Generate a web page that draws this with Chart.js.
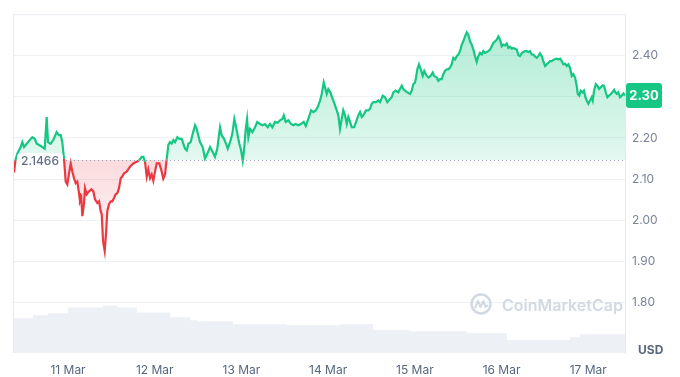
<!DOCTYPE html>
<html>
<head>
<meta charset="utf-8">
<script src="https://cdn.jsdelivr.net/npm/chart.js@4.4.1/dist/chart.umd.min.js"></script>
<style>
  html, body { margin: 0; padding: 0; background: #fff; }
  canvas { display: block; }
</style>
</head>
<body>
<canvas id="chart" width="680" height="377"></canvas>
<script>
// x values are days since 10 Mar 00:00
const dayTicks = [1, 2, 3, 4, 5, 6, 7];
const dayLabels = ['11 Mar', '12 Mar', '13 Mar', '14 Mar', '15 Mar', '16 Mar', '17 Mar'];
const priceTicks = [1.8, 1.9, 2.0, 2.1, 2.2, 2.3, 2.4];
const openPrice = 2.1466;

const times = [
  0.377,0.394,0.415,0.454,0.473,0.493,0.524,0.550,0.588,0.616,
  0.639,0.666,0.704,0.731,0.754,0.769,0.800,0.830,0.869,0.896,
  0.916,0.934,0.954,0.973,0.992,1.003,1.031,1.050,1.069,1.089,
  1.107,1.127,1.138,1.153,1.165,1.184,1.196,1.216,1.242,1.269,
  1.292,1.311,1.338,1.358,1.377,1.389,1.404,1.423,1.438,1.453,
  1.473,1.493,1.511,1.531,1.550,1.569,1.588,1.608,1.626,1.646,
  1.677,1.715,1.753,1.792,1.822,1.850,1.869,1.888,1.908,1.926,
  1.946,1.965,1.984,2.003,2.023,2.053,2.081,2.099,2.119,2.138,
  2.157,2.176,2.196,2.215,2.234,2.261,2.284,2.311,2.330,2.349,
  2.369,2.388,2.415,2.438,2.465,2.484,2.503,2.522,2.553,2.580,
  2.607,2.638,2.669,2.695,2.722,2.753,2.773,2.799,2.830,2.842,
  2.869,2.895,2.918,2.934,2.957,2.976,2.996,3.015,3.030,3.050,
  3.065,3.080,3.099,3.126,3.157,3.183,3.214,3.241,3.272,3.303,
  3.330,3.356,3.387,3.419,3.445,3.472,3.488,3.511,3.541,3.572,
  3.599,3.626,3.656,3.687,3.718,3.742,3.765,3.780,3.803,3.829,
  3.857,3.880,3.907,3.926,3.949,3.964,3.984,4.002,4.025,4.060,
  4.080,4.099,4.118,4.137,4.157,4.175,4.195,4.215,4.233,4.253,
  4.272,4.299,4.322,4.348,4.368,4.388,4.406,4.437,4.464,4.483,
  4.503,4.521,4.552,4.579,4.598,4.630,4.656,4.683,4.714,4.733,
  4.752,4.779,4.809,4.829,4.849,4.867,4.887,4.913,4.945,4.964,
  4.983,5.002,5.014,5.029,5.048,5.068,5.091,5.109,5.137,5.160,
  5.183,5.207,5.221,5.253,5.271,5.291,5.310,5.329,5.348,5.368,
  5.386,5.406,5.425,5.444,5.464,5.483,5.502,5.521,5.541,5.559,
  5.579,5.599,5.617,5.637,5.656,5.675,5.694,5.714,5.732,5.752,
  5.772,5.790,5.810,5.829,5.848,5.867,5.887,5.906,5.925,5.945,
  5.963,5.983,6.002,6.021,6.041,6.060,6.079,6.098,6.118,6.136,
  6.156,6.175,6.194,6.213,6.233,6.251,6.271,6.290,6.309,6.329,
  6.348,6.367,6.386,6.406,6.424,6.444,6.464,6.482,6.502,6.521,
  6.540,6.559,6.579,6.605,6.636,6.655,6.675,6.694,6.713,6.732,
  6.752,6.770,6.790,6.810,6.828,6.848,6.867,6.879,6.897,6.913,
  6.936,6.951,6.967,6.983,7.001,7.021,7.040,7.052,7.067,7.087,
  7.105,7.125,7.144,7.167,7.182,7.202,7.221,7.240,7.260,7.278,
  7.298,7.313,7.329,7.347,7.367,7.386,7.405,7.424
];

const prices = [
  2.116,2.146,2.162,2.178,2.190,2.178,2.186,2.193,2.202,2.198,
  2.186,2.183,2.178,2.174,2.251,2.190,2.186,2.195,2.214,2.207,
  2.207,2.190,2.149,2.094,2.087,2.102,2.138,2.118,2.102,2.090,
  2.094,2.066,2.046,2.054,2.010,2.039,2.078,2.063,2.070,2.075,
  2.070,2.051,2.042,2.046,2.022,2.014,1.949,1.925,1.966,2.022,
  2.039,2.046,2.046,2.054,2.063,2.066,2.078,2.102,2.106,2.114,
  2.118,2.130,2.138,2.142,2.146,2.154,2.154,2.142,2.106,2.123,
  2.102,2.111,2.096,2.118,2.138,2.138,2.118,2.101,2.111,2.148,
  2.183,2.190,2.186,2.195,2.190,2.202,2.198,2.198,2.186,2.174,
  2.170,2.186,2.190,2.210,2.231,2.222,2.206,2.190,2.178,2.150,
  2.162,2.178,2.166,2.154,2.174,2.226,2.206,2.198,2.182,2.174,
  2.190,2.210,2.246,2.231,2.206,2.186,2.170,2.145,2.170,2.222,
  2.246,2.202,2.222,2.214,2.226,2.239,2.234,2.231,2.234,2.226,
  2.234,2.226,2.239,2.237,2.243,2.246,2.255,2.239,2.243,2.234,
  2.231,2.234,2.231,2.234,2.239,2.229,2.243,2.251,2.267,2.263,
  2.267,2.275,2.291,2.307,2.335,2.323,2.307,2.319,2.311,2.291,
  2.279,2.267,2.255,2.222,2.246,2.267,2.255,2.234,2.251,2.239,
  2.226,2.226,2.239,2.255,2.263,2.251,2.255,2.267,2.267,2.271,
  2.283,2.287,2.287,2.291,2.287,2.303,2.299,2.287,2.295,2.299,
  2.311,2.315,2.311,2.319,2.327,2.319,2.315,2.311,2.307,2.315,
  2.331,2.335,2.347,2.367,2.379,2.367,2.351,2.363,2.351,2.347,
  2.351,2.359,2.351,2.347,2.339,2.343,2.343,2.355,2.363,2.367,
  2.367,2.371,2.379,2.395,2.391,2.399,2.403,2.411,2.427,2.435,
  2.447,2.457,2.451,2.435,2.427,2.415,2.399,2.385,2.399,2.407,
  2.403,2.411,2.407,2.409,2.411,2.415,2.423,2.431,2.435,2.439,
  2.447,2.439,2.423,2.427,2.425,2.430,2.419,2.422,2.417,2.419,
  2.417,2.415,2.401,2.399,2.406,2.409,2.411,2.411,2.409,2.411,
  2.403,2.403,2.398,2.395,2.399,2.406,2.399,2.387,2.375,2.379,
  2.383,2.387,2.387,2.391,2.393,2.391,2.393,2.387,2.379,2.381,
  2.375,2.379,2.371,2.351,2.355,2.347,2.327,2.307,2.303,2.315,
  2.311,2.315,2.299,2.291,2.283,2.291,2.299,2.291,2.315,2.331,
  2.327,2.319,2.323,2.328,2.327,2.311,2.299,2.303,2.307,2.311,
  2.317,2.311,2.307,2.311,2.299,2.303,2.308,2.303
];

// volume (millions, estimated shape only)
const volTimes = [0.377,0.597,0.769,1.000,1.404,1.565,1.796,2.177,2.407,2.488,2.903,
                  3.526,4.137,4.518,4.945,5.602,6.063,6.790,6.905,7.217,7.424];
const volumes = [99,105,114,120,138,144,138,123,108,99,96,87,84,87,69,66,60,39,48,57,57];

const GREEN = '#16c784';
const RED = '#ea3943';
const FONT = 'Inter, "Noto Sans", sans-serif';

const pricePoints = times.map((t, i) => ({ x: t, y: prices[i] }));
const volPoints = volTimes.map((t, i) => ({ x: t, y: volumes[i] }));

function roundRect(ctx, x, y, w, h, r) {
  ctx.beginPath();
  ctx.moveTo(x + r, y);
  ctx.arcTo(x + w, y, x + w, y + h, r);
  ctx.arcTo(x + w, y + h, x, y + h, r);
  ctx.arcTo(x, y + h, x, y, r);
  ctx.arcTo(x, y, x + w, y, r);
  ctx.closePath();
}

const extras = {
  id: 'extras',
  afterDatasetsDraw(chart) {
    const { ctx, chartArea: a, scales: { y } } = chart;
    const yb = Math.round(y.getPixelForValue(openPrice)) + 0.5;
    ctx.save();
    // frame: left and top edges
    ctx.strokeStyle = '#e6e9ee';
    ctx.lineWidth = 1;
    ctx.beginPath();
    ctx.moveTo(a.left - 0.5, a.bottom);
    ctx.lineTo(a.left - 0.5, a.top + 0.5);
    ctx.lineTo(a.right, a.top + 0.5);
    ctx.stroke();
    // dotted open price line
    ctx.strokeStyle = '#9aa1b1';
    ctx.setLineDash([1, 3]);
    ctx.beginPath();
    ctx.moveTo(a.left, yb);
    ctx.lineTo(a.right, yb);
    ctx.stroke();
    ctx.setLineDash([]);
    // open price badge
    ctx.font = '500 12px ' + FONT;
    const txt = openPrice.toFixed(4);
    const tw = ctx.measureText(txt).width;
    ctx.fillStyle = 'rgba(255,255,255,0.95)';
    roundRect(ctx, a.left + 3, yb - 7.5, tw + 8, 16, 4);
    ctx.fill();
    ctx.fillStyle = '#616e85';
    ctx.textBaseline = 'middle';
    ctx.textAlign = 'left';
    ctx.fillText(txt, a.left + 7, yb + 1);
    ctx.restore();
  },
  afterDraw(chart) {
    const { ctx, chartArea: a, scales: { y } } = chart;
    ctx.save();
    // current price badge
    const last = prices[prices.length - 1];
    const yl = y.getPixelForValue(last);
    ctx.fillStyle = GREEN;
    roundRect(ctx, a.right + 1, yl - 12.5, 36, 25, 3);
    ctx.fill();
    ctx.fillStyle = '#fff';
    ctx.font = 'bold 13px ' + FONT;
    ctx.textAlign = 'center';
    ctx.textBaseline = 'middle';
    ctx.fillText(last.toFixed(2), a.right + 19, yl + 0.5);
    // currency label
    ctx.fillStyle = '#58667e';
    ctx.font = 'bold 12px ' + FONT;
    ctx.textAlign = 'left';
    ctx.fillText('USD', a.right + 13, a.bottom - 3);
    // watermark
    const cx = 481, cy = 304;
    ctx.strokeStyle = '#d3d9e3';
    ctx.lineWidth = 2.5;
    ctx.beginPath();
    ctx.arc(cx, cy, 9.5, 0, Math.PI * 2);
    ctx.stroke();
    ctx.lineWidth = 2;
    ctx.lineJoin = 'round';
    ctx.beginPath();
    ctx.moveTo(cx - 6, cy + 4);
    ctx.lineTo(cx - 3, cy - 3);
    ctx.lineTo(cx - 0.5, cy + 3);
    ctx.lineTo(cx + 2.5, cy - 3);
    ctx.lineTo(cx + 4.5, cy + 3);
    ctx.lineTo(cx + 7, cy + 1);
    ctx.stroke();
    ctx.fillStyle = '#d3d9e3';
    ctx.font = '600 16px ' + FONT;
    ctx.textBaseline = 'middle';
    ctx.fillText('CoinMarketCap', 502, 306);
    ctx.restore();
  }
};

const chart = new Chart(document.getElementById('chart'), {
  type: 'line',
  data: {
    datasets: [
      {
        label: 'Price',
        data: pricePoints,
        yAxisID: 'y',
        order: 0,
        borderWidth: 2.2,
        borderColor: GREEN,
        pointRadius: 0,
        tension: 0,
        segment: {
          borderColor: c => ((c.p0.parsed.y + c.p1.parsed.y) / 2 < openPrice ? RED : GREEN)
        },
        fill: { target: { value: openPrice }, above: 'rgba(22,199,132,0.2)', below: 'rgba(234,57,67,0.12)' }
      },
      {
        label: 'Volume',
        data: volPoints,
        yAxisID: 'yv',
        order: 1,
        stepped: 'after',
        borderWidth: 0,
        pointRadius: 0,
        backgroundColor: '#edf0f4',
        fill: 'origin'
      }
    ]
  },
  options: {
    responsive: false,
    animation: false,
    devicePixelRatio: 1,
    layout: { padding: { left: 14, top: 11, right: 0, bottom: 0 } },
    plugins: { legend: { display: false }, tooltip: { enabled: false } },
    scales: {
      x: {
        type: 'linear',
        min: times[0],
        max: times[times.length - 1],
        afterBuildTicks: s => { s.ticks = dayTicks.map(v => ({ value: v })); },
        afterFit: s => { s.height = 24; },
        grid: { display: false, drawTicks: false },
        border: { display: false },
        ticks: {
          padding: 10,
          maxRotation: 0,
          autoSkip: false,
          color: '#58667e',
          font: { family: FONT, size: 12 },
          callback: v => dayLabels[dayTicks.indexOf(v)]
        }
      },
      y: {
        position: 'right',
        min: 1.677,
        max: 2.501,
        afterBuildTicks: s => { s.ticks = priceTicks.map(v => ({ value: v })); },
        afterFit: s => { s.width = 55; },
        grid: { color: '#eff2f5', drawTicks: false },
        border: { display: true, color: '#e6e9ee' },
        ticks: {
          padding: 7,
          color: '#7a8296',
          font: { family: FONT, size: 12 },
          callback: v => v.toFixed(2)
        }
      },
      yv: { display: false, min: 0, max: 1026 }
    }
  },
  plugins: [extras]
});

// vertical gradients for the fill above / below the open price
const ctx = chart.ctx;
const yTop = chart.chartArea.top;
const yBase = chart.scales.y.getPixelForValue(openPrice);
const yLow = chart.scales.y.getPixelForValue(Math.min(...prices));
const gUp = ctx.createLinearGradient(0, yTop, 0, yBase);
gUp.addColorStop(0, 'rgba(22,199,132,0.36)');
gUp.addColorStop(1, 'rgba(22,199,132,0.12)');
const gDown = ctx.createLinearGradient(0, yBase, 0, yLow);
gDown.addColorStop(0, 'rgba(234,57,67,0.18)');
gDown.addColorStop(1, 'rgba(234,57,67,0.05)');
chart.data.datasets[0].fill = { target: { value: openPrice }, above: gUp, below: gDown };
chart.update('none');
</script>
</body>
</html>
